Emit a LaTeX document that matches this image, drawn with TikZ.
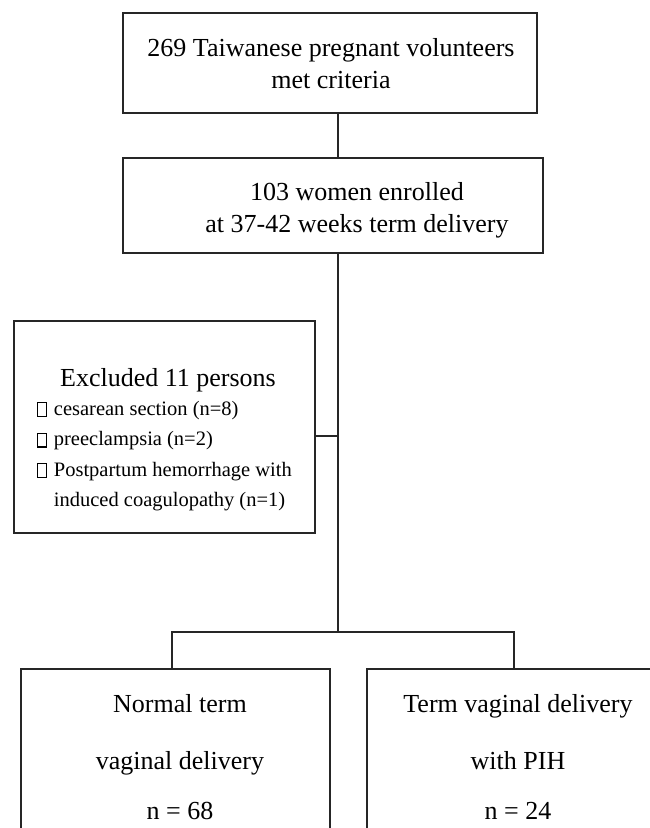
\documentclass[tikz,border=0pt]{standalone}
\usepackage{fontspec}
\setmainfont{Liberation Serif}
\newcommand\bulbox{{\setlength\fboxsep{0pt}\setlength\fboxrule{1.1pt}\raisebox{-0.5pt}{\fbox{\rule{0pt}{12.5pt}\rule{7.5pt}{0pt}}}}}
\begin{document}
\begin{tikzpicture}[x=1pt,y=-1pt,
  box/.style={draw=black!85, line width=1.4pt, inner sep=0pt},
  txt/.style={inner sep=0pt, align=center, font=\fontsize{26}{32}\selectfont},
  small/.style={inner sep=0pt, align=left, font=\fontsize{20.5}{30.5}\selectfont},
  link/.style={draw=black!85, line width=1.4pt}]
\useasboundingbox (0,0) rectangle (649,828);
% boxes
\node[box, minimum width=414pt, minimum height=100pt] (b1) at (330,63) {};
\node[txt] (t1) at (331,64) {269 Taiwanese pregnant volunteers\\met criteria};
\node[box, minimum width=420pt, minimum height=95pt] (b2) at (333,205.5) {};
\node[txt] (t2) at (357,210) {103 women enrolled\\at 37-42 weeks term delivery};
\node[box, minimum width=301pt, minimum height=212pt] (ex) at (164.5,427) {};
\node[txt] (ext) at (168,380) {Excluded 11 persons};
\node[small, anchor=north west] (exl) at (37,401) {\bulbox\hspace{7pt}cesarean section (n=8)\\
\bulbox\hspace{7pt}preeclampsia (n=2)\\
\bulbox\hspace{7pt}Postpartum hemorrhage with\\
\phantom{\bulbox}\hspace{7pt}induced coagulopathy (n=1)};
\node[box, minimum width=309pt, minimum height=200pt] (bl) at (175.5,769) {};
\node[box, minimum width=285pt, minimum height=200pt] (br) at (509.5,769) {};
\node[txt, anchor=base] (tl1) at (180,712) {Normal term};
\node[txt, anchor=base] (tl2) at (180,769) {vaginal delivery};
\node[txt, anchor=base] (tl3) at (180,819) {n = 68};
\node[txt, anchor=base] (tr1) at (518,712) {Term vaginal delivery};
\node[txt, anchor=base] (tr2) at (518,769) {with PIH};
\node[txt, anchor=base] (tr3) at (518,819) {n = 24};
% connectors
\coordinate (j1) at (338,436);
\coordinate (j2) at (338,632);
\coordinate (jl) at (172,632);
\coordinate (jr) at (514,632);
\draw[link] (b1.south -| j1) -- (b2.north -| j1);
\draw[link] (b2.south -| j1) -- (j1) -- (j2);
\draw[link] (ex.east |- j1) -- (j1);
\draw[link] (jl |- bl.north) -- (jl) -- (jr) -- (jr |- br.north);
\end{tikzpicture}
\end{document}
